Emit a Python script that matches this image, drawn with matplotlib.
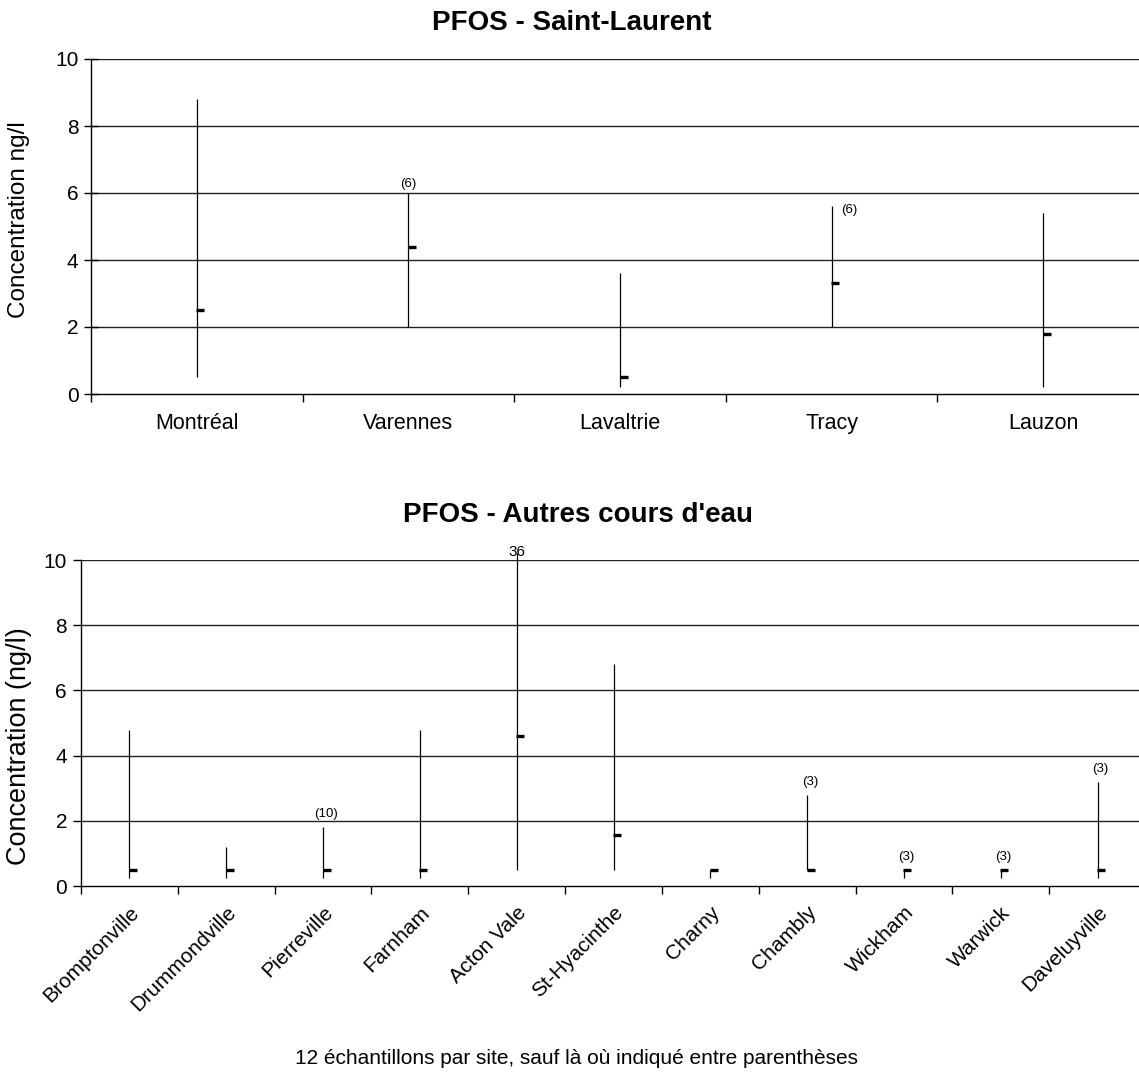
import numpy as np
import matplotlib
matplotlib.use('Agg')
import matplotlib.pyplot as plt
from matplotlib.transforms import offset_copy

plt.rcParams['font.family'] = ['Liberation Sans', 'DejaVu Sans']

# Saint-Laurent
sl_sites = ['Montréal', 'Varennes', 'Lavaltrie', 'Tracy', 'Lauzon']
sl_min = [0.5, 2.0, 0.2, 2.0, 0.2]
sl_max = [8.8, 6.0, 3.6, 5.6, 5.4]
sl_mean = [2.5, 4.4, 0.5, 3.3, 1.8]
sl_notes = ['', '(6)', '', '(6)', '']

# autres cours d'eau
oc_sites = ['Bromptonville', 'Drummondville', 'Pierreville', 'Farnham', 'Acton Vale',
            'St-Hyacinthe', 'Charny', 'Chambly', 'Wickham', 'Warwick', 'Daveluyville']
oc_min = [0.25, 0.25, 0.25, 0.25, 0.5, 0.5, 0.25, 0.5, 0.25, 0.25, 0.25]
oc_max = [4.8, 1.2, 1.8, 4.8, 36, 6.8, 0.5, 2.8, 0.5, 0.5, 3.2]
oc_mean = [0.5, 0.5, 0.5, 0.5, 4.6, 1.55, 0.5, 0.5, 0.5, 0.5, 0.5]
oc_notes = ['', '', '(10)', '', '36', '', '', '(3)', '(3)', '(3)', '(3)']

YMAX = 10


def draw_panel(ax, sites, lo, hi, mean):
    n = len(sites)
    x = np.arange(n)
    ax.set_xlim(-0.5, n - 0.5)
    ax.set_ylim(0, YMAX)
    ax.set_yticks(np.arange(0, YMAX + 1, 2))
    for y in range(2, YMAX + 1, 2):
        ax.axhline(y, color='#222222', lw=1.0, zorder=1)
    # min-max line, slightly over the top when clipped
    top = np.minimum(hi, YMAX + 0.2)
    ax.vlines(x, lo, top, color='black', lw=0.9, zorder=3, clip_on=False)
    # mean tick, offset to the right of the line
    tr = offset_copy(ax.transData, fig=ax.figure, x=3.5, y=0, units='dots')
    ax.plot(x, mean, ls='none', marker='_', ms=5.2, mew=2.4, color='black',
            transform=tr, zorder=4)
    for s in ['top', 'right']:
        ax.spines[s].set_visible(False)
    ax.spines['left'].set_linewidth(1.0)
    ax.spines['bottom'].set_linewidth(1.0)
    ax.set_xticks(x)
    ax.set_xticks(np.arange(-0.5, n), minor=True)
    ax.tick_params(axis='x', which='major', length=0)
    ax.tick_params(axis='x', which='minor', length=6, width=1.0, direction='out')
    return x


fig = plt.figure(figsize=(11.39, 10.72), dpi=100)

# top panel
ax1 = fig.add_axes([91 / 1139, 1 - 394 / 1072, 1058 / 1139, 335 / 1072])
x1 = draw_panel(ax1, sl_sites, sl_min, sl_max, sl_mean)
ax1.set_xticklabels(sl_sites, fontsize=15.5)
ax1.tick_params(axis='x', which='major', pad=14)
ax1.tick_params(axis='y', labelsize=15, direction='inout', length=10, width=1.0, pad=4)
ax1.set_ylabel('Concentration ng/l', fontsize=17.5)
ax1.yaxis.set_label_coords(-0.058, 0.52)
for i, note in enumerate(sl_notes):
    if not note:
        continue
    if sl_sites[i] == 'Tracy':
        ax1.annotate(note, (x1[i], sl_max[i]), xytext=(7, 2), textcoords='offset points',
                     ha='left', va='top', fontsize=9.5)
    else:
        ax1.annotate(note, (x1[i], sl_max[i]), xytext=(0, 2), textcoords='offset points',
                     ha='center', va='bottom', fontsize=9.5)
fig.text(0.502, 0.9785, 'PFOS - Saint-Laurent', ha='center', va='center',
         fontsize=20, fontweight='bold')

# bottom panel
ax2 = fig.add_axes([81 / 1139, 1 - 886 / 1072, 1065 / 1139, 326 / 1072])
x2 = draw_panel(ax2, oc_sites, oc_min, oc_max, oc_mean)
ax2.set_xticklabels(oc_sites, fontsize=15, rotation=45, ha='right',
                    rotation_mode='anchor')
ax2.tick_params(axis='x', which='major', pad=12)
ax2.tick_params(axis='y', labelsize=15, direction='out', length=6, width=1.0, pad=4)
ax2.set_ylabel('Concentration (ng/l)', fontsize=19.5)
ax2.yaxis.set_label_coords(-0.046, 0.43)
for i, note in enumerate(oc_notes):
    if not note:
        continue
    yv = min(oc_max[i], YMAX)
    if oc_max[i] > YMAX:
        ax2.annotate(note, (x2[i], yv), xytext=(0, 1), textcoords='offset points',
                     ha='center', va='bottom', fontsize=11)
    else:
        ax2.annotate(note, (x2[i], yv), xytext=(2, 5), textcoords='offset points',
                     ha='center', va='bottom', fontsize=9.5)
fig.text(0.5075, 0.5196, "PFOS - Autres cours d'eau", ha='center', va='center',
         fontsize=20, fontweight='bold')

fig.text(0.506, 0.013, '12 échantillons par site, sauf là où indiqué entre parenthèses',
         ha='center', va='center', fontsize=15)

fig.savefig('out.png', dpi=100)
